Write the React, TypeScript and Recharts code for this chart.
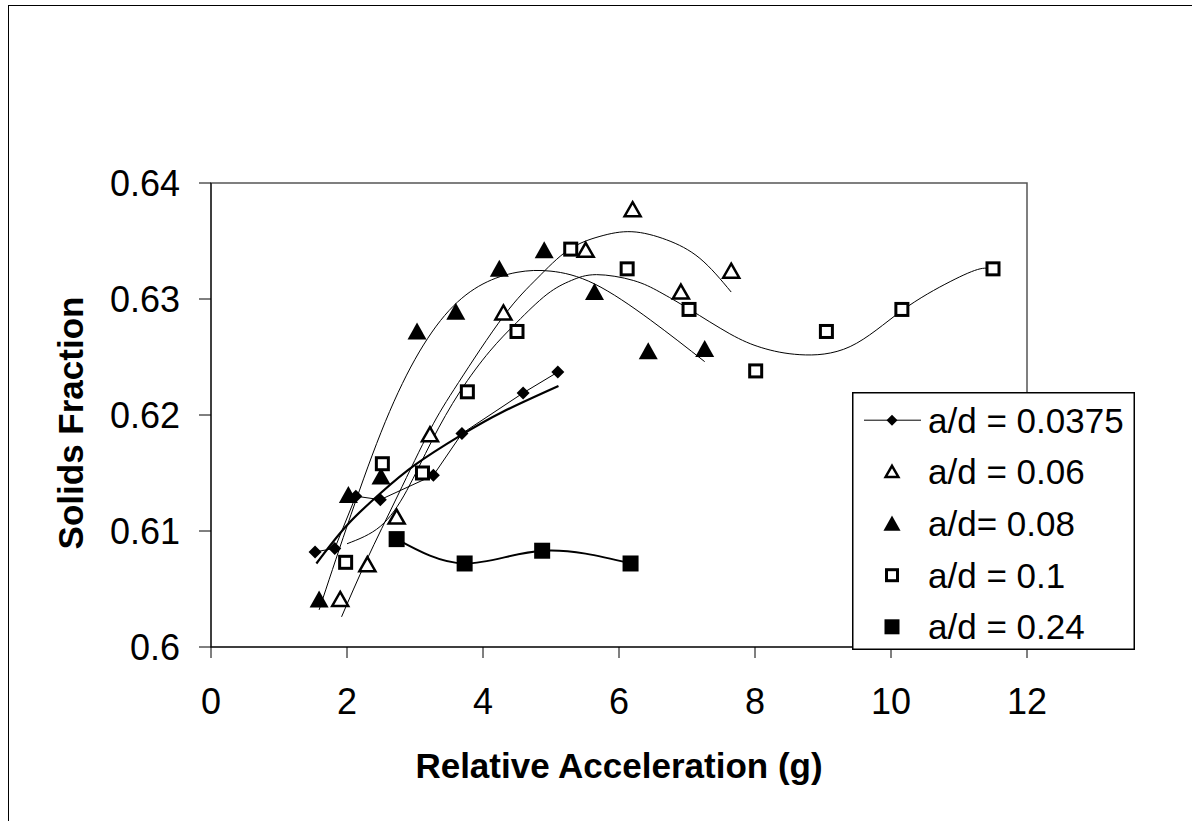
import React from 'react'
import {
  ComposedChart, Line, Scatter, XAxis, YAxis, Legend, ReferenceArea,
} from 'recharts'

const ad0375X = [1.53, 1.82, 2.13, 2.49, 3.27, 3.69, 4.59, 5.1]
const ad0375Y = [0.6082, 0.6085, 0.613, 0.6127, 0.6148, 0.6184, 0.6219, 0.6237]

const ad006X = [1.9, 2.3, 2.73, 3.22, 4.3, 5.51, 6.2, 6.91, 7.65]
const ad006Y = [0.6041, 0.6071, 0.6112, 0.6183, 0.6288, 0.6342, 0.6377, 0.6306, 0.6324]

const ad008X = [1.59, 2.02, 2.5, 3.03, 3.6, 4.24, 4.9, 5.64, 6.43, 7.26]
const ad008Y = [0.6041, 0.6131, 0.6147, 0.6272, 0.6289, 0.6326, 0.6342, 0.6306, 0.6255, 0.6257]

const ad01X = [1.98, 2.52, 3.11, 3.77, 4.5, 5.29, 6.12, 7.03, 8.01, 9.05, 10.16, 11.5]
const ad01Y = [0.6073, 0.6158, 0.615, 0.622, 0.6272, 0.6343, 0.6326, 0.6291, 0.6238, 0.6272, 0.6291, 0.6326]

const ad024X = [2.73, 3.73, 4.87, 6.17]
const ad024Y = [0.6093, 0.6072, 0.6083, 0.6072]

// trendlines
const trend0375X = [1.55, 2.0, 2.5, 3.0, 3.66, 4.3, 5.11]
const trend0375Y = [0.6072, 0.6105, 0.6133, 0.6157, 0.6182, 0.6203, 0.6225]

const trend006X = [1.92, 2.29, 2.75, 3.22, 3.64, 4.3, 4.8, 5.25, 5.72, 6.19, 6.7, 7.19, 7.65]
const trend006Y = [0.6026, 0.6075, 0.6131, 0.6187, 0.6228, 0.6285, 0.6318, 0.6342, 0.6354, 0.6358, 0.6351, 0.6335, 0.6306]

const trend008X = [1.59, 2.0, 2.5, 3.0, 3.5, 4.0, 4.5, 5.0, 5.64, 6.46, 7.26]
const trend008Y = [0.6032, 0.6104, 0.6185, 0.6248, 0.629, 0.6313, 0.6323, 0.6324, 0.6313, 0.6282, 0.6246]

const trend01X = [2.0, 2.49, 2.88, 3.25, 3.66, 4.1, 4.5, 4.94, 5.3, 5.67, 6.21, 6.6, 7.04, 7.63, 8.1, 8.66, 9.4, 10.16, 10.87, 11.31, 11.5]
const trend01Y = [0.6089, 0.6104, 0.6135, 0.6178, 0.622, 0.6255, 0.628, 0.6304, 0.6316, 0.6321, 0.6316, 0.6306, 0.6291, 0.627, 0.6258, 0.6252, 0.6259, 0.629, 0.6315, 0.6326, 0.6325]

const xTicks = [0, 2, 4, 6, 8, 10, 12]
const yTicks = [0.6, 0.61, 0.62, 0.63, 0.64]

const legendLabels = ['a/d = 0.0375', 'a/d = 0.06', 'a/d= 0.08', 'a/d = 0.1', 'a/d = 0.24']

const FONT = '"Liberation Sans", Arial, Helvetica, sans-serif'

const zip = (xs: number[], ys: number[]) => xs.map((x, i) => ({ x, y: ys[i] }))

function Diamond({ cx, cy, r = 6.5 }: any) {
  return <polygon points={`${cx},${cy - r} ${cx + r},${cy} ${cx},${cy + r} ${cx - r},${cy}`} fill="#000" />
}
function OpenTri({ cx, cy, s = 1 }: any) {
  return (
    <polygon
      points={`${cx},${cy - 7.5 * s} ${cx + 8 * s},${cy + 6.5 * s} ${cx - 8 * s},${cy + 6.5 * s}`}
      fill="#fff" stroke="#000" strokeWidth={2.5}
    />
  )
}
function FillTri({ cx, cy, s = 1 }: any) {
  return <polygon points={`${cx},${cy - 9 * s} ${cx + 9.5 * s},${cy + 8 * s} ${cx - 9.5 * s},${cy + 8 * s}`} fill="#000" />
}
function OpenSq({ cx, cy, h = 6 }: any) {
  return <rect x={cx - h} y={cy - h} width={h * 2} height={h * 2} fill="#fff" stroke="#000" strokeWidth={3} />
}
function FillSq({ cx, cy, h = 8 }: any) {
  return <rect x={cx - h} y={cy - h} width={h * 2} height={h * 2} fill="#000" />
}

function LegendBox() {
  const rows = [40.7, 92.3, 144, 195.7, 247.3]
  const mx = 40
  return (
    <svg width={283} height={258} style={{ display: 'block' }}>
      <rect x={0.75} y={0.75} width={281.5} height={256.5} fill="#fff" stroke="#000" strokeWidth={1.5} />
      {legendLabels.map((lab, i) => {
        const cy = rows[i] - 12.5
        return (
          <g key={lab}>
            {i === 0 && <line x1={12} x2={69} y1={cy} y2={cy} stroke="#000" strokeWidth={1} />}
            {i === 0 && <Diamond cx={mx} cy={cy} r={5.5} />}
            {i === 1 && <OpenTri cx={mx} cy={cy} s={0.8} />}
            {i === 2 && <FillTri cx={mx} cy={cy} s={0.9} />}
            {i === 3 && <OpenSq cx={mx} cy={cy} h={5.5} />}
            {i === 4 && <FillSq cx={mx} cy={cy} h={7.5} />}
            <text x={76} y={rows[i]} fontSize={35} fontFamily={FONT} fill="#000">{lab}</text>
          </g>
        )
      })}
    </svg>
  )
}

const XTitle = (p: any) => {
  const vb = p.viewBox
  return (
    <text x={vb.x + vb.width / 2} y={vb.y + 131} textAnchor="middle" fontSize={35} fontWeight="bold" fontFamily={FONT} fill="#000">
      Relative Acceleration (g)
    </text>
  )
}

const YTitle = (p: any) => {
  const vb = p.viewBox
  const x = vb.x + 74
  const y = vb.y + vb.height / 2 + 8
  return (
    <text x={x} y={y} transform={`rotate(-90 ${x} ${y})`} textAnchor="middle" fontSize={35} fontWeight="bold" fontFamily={FONT} fill="#000">
      Solids Fraction
    </text>
  )
}

export default function App() {
  const tick = { fill: '#000', fontSize: 36, fontFamily: FONT }
  return (
    <>
      <style>{'html,body{overflow:hidden}'}</style>
      <div style={{ position: 'absolute', left: 8, top: 5, width: 1184, height: 816, borderLeft: '1px solid #000', borderTop: '1px solid #000', overflow: 'hidden', background: '#fff' }}>
        <ComposedChart width={1183} height={815} margin={{ top: 177, right: 165, left: 0, bottom: 0 }}>
          <XAxis
            type="number" dataKey="x" domain={[0, 12]} ticks={xTicks} interval={0}
            tick={tick} tickSize={11} tickMargin={30} height={174}
            axisLine={{ stroke: '#000' }} tickLine={{ stroke: '#000' }}
            label={XTitle}
          />
          <YAxis
            type="number" dataKey="y" domain={[0.6, 0.64]} ticks={yTicks} interval={0}
            tick={tick} tickSize={12} tickMargin={19} width={202}
            axisLine={{ stroke: '#000' }} tickLine={{ stroke: '#000' }}
            label={YTitle}
          />
          <ReferenceArea x1={0} x2={12} y1={0.6} y2={0.64} fill="none" fillOpacity={0} stroke="#555" strokeWidth={1.5} />

          <Line data={zip(trend0375X, trend0375Y)} dataKey="y" type="natural" stroke="#000" strokeWidth={2.2} dot={false} legendType="none" isAnimationActive={false} />
          <Line data={zip(trend006X, trend006Y)} dataKey="y" type="natural" stroke="#000" strokeWidth={1} dot={false} legendType="none" isAnimationActive={false} />
          <Line data={zip(trend008X, trend008Y)} dataKey="y" type="natural" stroke="#000" strokeWidth={1} dot={false} legendType="none" isAnimationActive={false} />
          <Line data={zip(trend01X, trend01Y)} dataKey="y" type="natural" stroke="#000" strokeWidth={1} dot={false} legendType="none" isAnimationActive={false} />

          <Line
            name="a/d = 0.0375" data={zip(ad0375X, ad0375Y)} dataKey="y" type="linear" stroke="#000" strokeWidth={1}
            dot={(p: any) => <Diamond key={`d${p.index}`} cx={p.cx} cy={p.cy} />} activeDot={false} isAnimationActive={false}
          />
          <Scatter name="a/d = 0.06" data={zip(ad006X, ad006Y)} dataKey="y" shape={(p: any) => <OpenTri cx={p.cx} cy={p.cy} />} isAnimationActive={false} />
          <Scatter name="a/d= 0.08" data={zip(ad008X, ad008Y)} dataKey="y" shape={(p: any) => <FillTri cx={p.cx} cy={p.cy} />} isAnimationActive={false} />
          <Scatter name="a/d = 0.1" data={zip(ad01X, ad01Y)} dataKey="y" shape={(p: any) => <OpenSq cx={p.cx} cy={p.cy} />} isAnimationActive={false} />
          <Line
            name="a/d = 0.24" data={zip(ad024X, ad024Y)} dataKey="y" type="natural" stroke="#000" strokeWidth={2}
            dot={(p: any) => <FillSq key={`s${p.index}`} cx={p.cx} cy={p.cy} />} activeDot={false} isAnimationActive={false}
          />

          <Legend
            layout="vertical" align="center" verticalAlign="middle"
            wrapperStyle={{ position: 'absolute', left: 843, top: 386, width: 283, height: 258 }}
            content={() => <LegendBox />}
          />
        </ComposedChart>
      </div>
    </>
  )
}
